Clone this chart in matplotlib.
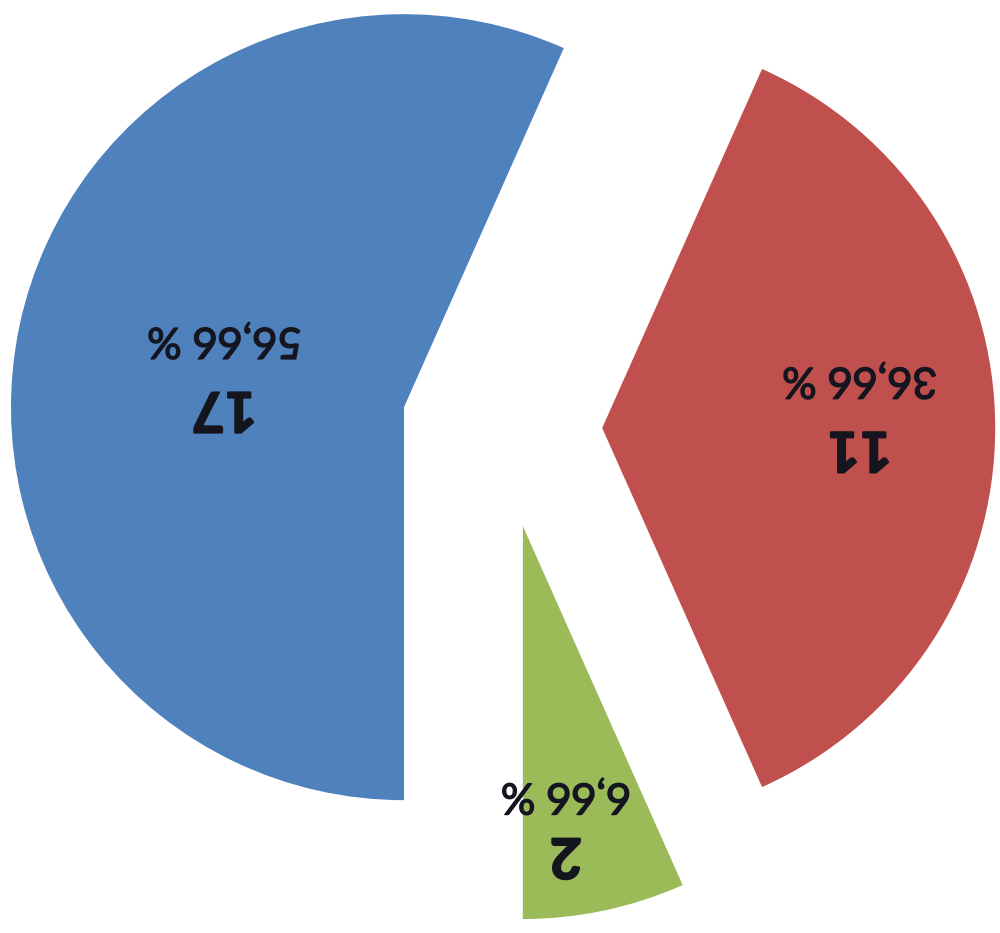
import numpy as np
import matplotlib
matplotlib.use("Agg")
import matplotlib.pyplot as plt
import matplotlib.patheffects as pe

# Data
counts = [17, 11, 2]
percent_labels = ["56,66 %", "36,66 %", "6,66 %"]
colors = ["#4F81BD", "#C0504D", "#9BBB59"]

# Label placement (style): radial distance from wedge apex and angle (deg)
label_r = [0.464, 0.656, 0.769]
label_ang = [169.6, 3.1, -81.8]
label_gap = [0.087, 0.087, 0.075]

plt.rcParams['font.family'] = ['Lato', 'DejaVu Sans']

fig = plt.figure(figsize=(10, 9.33), dpi=100)
ax = fig.add_axes([0, 0, 1, 1])
wedges, _ = ax.pie(counts, colors=colors, startangle=270, counterclock=False,
                   explode=[0.255] * 3, radius=1, center=(0, 0),
                   wedgeprops=dict(linewidth=0))

txt_color = '#151520'
for w, pl, n, rf, ang, gap in zip(wedges, percent_labels, counts, label_r, label_ang, label_gap):
    cx, cy = w.center
    a = np.deg2rad(ang)
    ax_, ay_ = cx + rf * np.cos(a), cy + rf * np.sin(a)
    ax.text(ax_, ay_ + gap, pl, rotation=180, ha='center', va='center',
            fontsize=31, fontweight='normal', color=txt_color,
            path_effects=[pe.withStroke(linewidth=1.0, foreground=txt_color)])
    ax.text(ax_, ay_ - gap, str(n), rotation=180, ha='center', va='center',
            fontsize=40, fontweight='bold', color=txt_color,
            path_effects=[pe.withStroke(linewidth=1.5, foreground=txt_color)])

s = 393.0
ax.set_xlim(-502 / s, (1000 - 502) / s)
ax.set_ylim(-(933 - 428) / s, 428 / s)
ax.set_aspect('auto')
ax.axis('off')
fig.savefig("out.png", dpi=100)
